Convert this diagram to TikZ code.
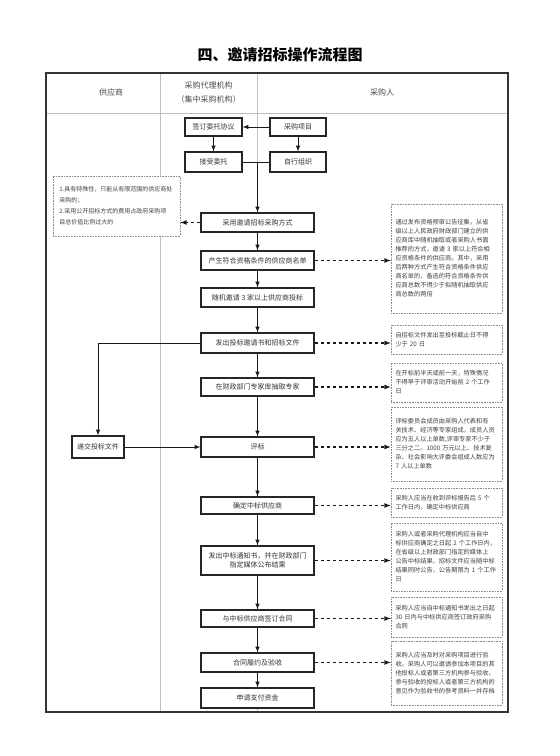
\documentclass[tikz,border=0pt]{standalone}
\usepackage{fontspec}
\setmainfont{Noto Sans CJK SC}

\begin{document}
\begin{tikzpicture}[x=1pt,y=-1pt,
    box/.style={draw=black!85,fill=white,line width=1.1pt,minimum width=113pt,minimum height=19pt,inner sep=1pt,font=\fontsize{7}{9}\selectfont,text=black!80},
    note/.style={draw=black!45,fill=white,densely dotted,line width=0.6pt,text width=102pt,inner xsep=4.5pt,inner ysep=2pt,align=left,font=\fontsize{6.2}{9}\selectfont,text=black!75},
    flow/.style={-latex,line width=1pt,draw=black!90},
    dflow/.style={-latex,dash pattern=on 3.5pt off 2.5pt,line width=1.2pt,draw=black!90},
    plain/.style={line width=1pt,draw=black!90},
    lane/.style={draw=black!25,line width=0.6pt},
    head/.style={font=\fontsize{8}{14}\selectfont,text=black!70,align=center}]
    \useasboundingbox (0,0) rectangle (560,756);
    \fill[white] (0,0) rectangle (560,756);
    % title and lanes
    \node[font=\fontsize{15}{18}\selectfont\bfseries] (title) at (280,55) {四、邀请招标操作流程图};
    \draw[lane] (46,113) -- (508,113);
    \draw[lane] (160,73) -- (160,712);
    \draw[lane] (257,73) -- (257,712);
    \draw[line width=1.5pt,black!80] (46,73) rectangle (508,712);
    \node[head] (gys) at (111,92) {供应商};
    \node[head] (dl) at (208.5,93) {采购代理机构\\（集中采购机构）};
    \node[head] (cgr) at (382,92) {采购人};
    % main boxes
    \node[box,minimum width=57pt,minimum height=18pt] (qw) at (213.5,127) {签订委托协议};
    \node[box,minimum width=56pt,minimum height=18pt] (xm) at (298,127) {采购项目};
    \node[box,minimum width=57pt,minimum height=20pt] (js) at (213.5,162) {接受委托};
    \node[box,minimum width=56pt,minimum height=20pt] (zx) at (298,162) {自行组织};
    \coordinate (hb) at (257.5,162);
    \node[box] (cy) at (257.5,222.5) {采用邀请招标采购方式};
    \node[box] (cs) at (257.5,260.5) {产生符合资格条件的供应商名单};
    \node[box] (sj) at (257.5,297.5) {随机邀请~3~家以上供应商投标};
    \node[box,minimum height=20pt] (fb) at (257.5,343) {发出投标邀请书和招标文件};
    \node[box,minimum height=18pt] (zj) at (257.5,387) {在财政部门专家库抽取专家};
    \node[box,minimum height=20pt] (pb) at (257.5,447) {评标};
    \node[box,minimum height=17pt] (qd) at (257.5,505.5) {确定中标供应商};
    \node[box,minimum height=29pt,align=center] (fz) at (257.5,560.5) {发出中标通知书，并在财政部门\\指定媒体公布结果};
    \node[box,minimum height=17pt] (ht) at (257.5,618.5) {与中标供应商签订合同};
    \node[box] (ly) at (257.5,662.5) {合同履约及验收};
    \node[box,minimum height=20pt] (zf) at (257.5,698) {申请支付资金};
    \node[box,minimum width=52pt,minimum height=22pt] (dj) at (98,447) {递交投标文件};
    % notes
    \node[note,text width=114pt,inner xsep=6.5pt,minimum height=60pt,font=\fontsize{6}{11}\selectfont] (tj) at (116.5,206) {1.具有特殊性，只能从有限范围的供应商处\\采购的；\\2.采用公开招标方式的费用占政府采购项\\目总价值比例过大的};
    \node[note,minimum height=109pt] (n1) at (446.5,258.5) {通过发布资格预审公告征集，从省\\级以上人民政府财政部门建立的供\\应商库中随机抽取或者采购人书面\\推荐的方式，邀请~3~家以上符合相\\应资格条件的供应商。其中，采用\\后两种方式产生符合资格条件供应\\商名单的，备选的符合资格条件供\\应商总数不得少于拟随机抽取供应\\商总数的两倍};
    \node[note,minimum height=29pt] (n2) at (446.5,339.5) {自招标文件发出至投标截止日不得\\少于~20~日};
    \node[note,minimum height=39pt] (n3) at (446.5,382.5) {在开标前半天或前一天，特殊情况\\不得早于评审活动开始前~2~个工作\\日};
    \node[note,minimum height=74pt] (n4) at (446.5,444) {评标委员会成员由采购人代表和有\\关技术、经济等专家组成，成员人员\\应为五人以上单数,评审专家不少于\\三分之二。1000~万元以上、技术复\\杂、社会影响大评委会组成人数应为\\7~人以上单数};
    \node[note,minimum height=29pt] (n5) at (446.5,502.5) {采购人应当在收到评标报告后~5~个\\工作日内，确定中标供应商};
    \node[note,minimum height=68pt] (n6) at (446.5,557) {采购人或者采购代理机构应当自中\\标供应商确定之日起~2~个工作日内，\\在省级以上财政部门指定的媒体上\\公告中标结果，招标文件应当随中标\\结果同时公告，公告期限为~1~个工作\\日};
    \node[note,minimum height=40pt] (n7) at (446.5,617) {采购人应当自中标通知书发出之日起\\30~日内与中标供应商签订政府采购\\合同};
    \node[note,minimum height=64pt] (n8) at (446.5,673) {采购人应当及时对采购项目进行验\\收。采购人可以邀请参加本项目的其\\他投标人或者第三方机构参与验收。\\参与验收的投标人或者第三方机构的\\意见作为验收书的参考资料一并存档};
    % connectors
    \draw[flow] (xm.west) -- (qw.east);
    \draw[flow] (qw.south) -- (js.north);
    \draw[flow] (xm.south) -- (zx.north);
    \draw[plain] (js.east) -- (zx.west);
    \draw[flow] (hb) -- (cy.north);
    \draw[flow] (cy.south) -- (cs.north);
    \draw[flow] (cs.south) -- (sj.north);
    \draw[flow] (sj.south) -- (fb.north);
    \draw[flow] (fb.south) -- (zj.north);
    \draw[flow] (zj.south) -- (pb.north);
    \draw[flow] (pb.south) -- (qd.north);
    \draw[flow] (qd.south) -- (fz.north);
    \draw[flow] (fz.south) -- (ht.north);
    \draw[flow] (ht.south) -- (ly.north);
    \draw[flow] (ly.south) -- (zf.north);
    \draw[flow] (fb.west) -| (dj.north);
    \draw[flow] (dj.east) -- (pb.west);
    \draw[dflow] (cy.west) -- (cy.west -| tj.east);
    \draw[dflow] (cs.east) -- (cs.east -| n1.west);
    \draw[dflow] (fb.east) -- (fb.east -| n2.west);
    \draw[dflow] (zj.east) -- (zj.east -| n3.west);
    \draw[dflow] (pb.east) -- (pb.east -| n4.west);
    \draw[dflow] (qd.east) -- (qd.east -| n5.west);
    \draw[dflow] (fz.east) -- (fz.east -| n6.west);
    \draw[dflow] (ht.east) -- (ht.east -| n7.west);
    \draw[dflow] (ly.east) -- (ly.east -| n8.west);
\end{tikzpicture}
\end{document}
